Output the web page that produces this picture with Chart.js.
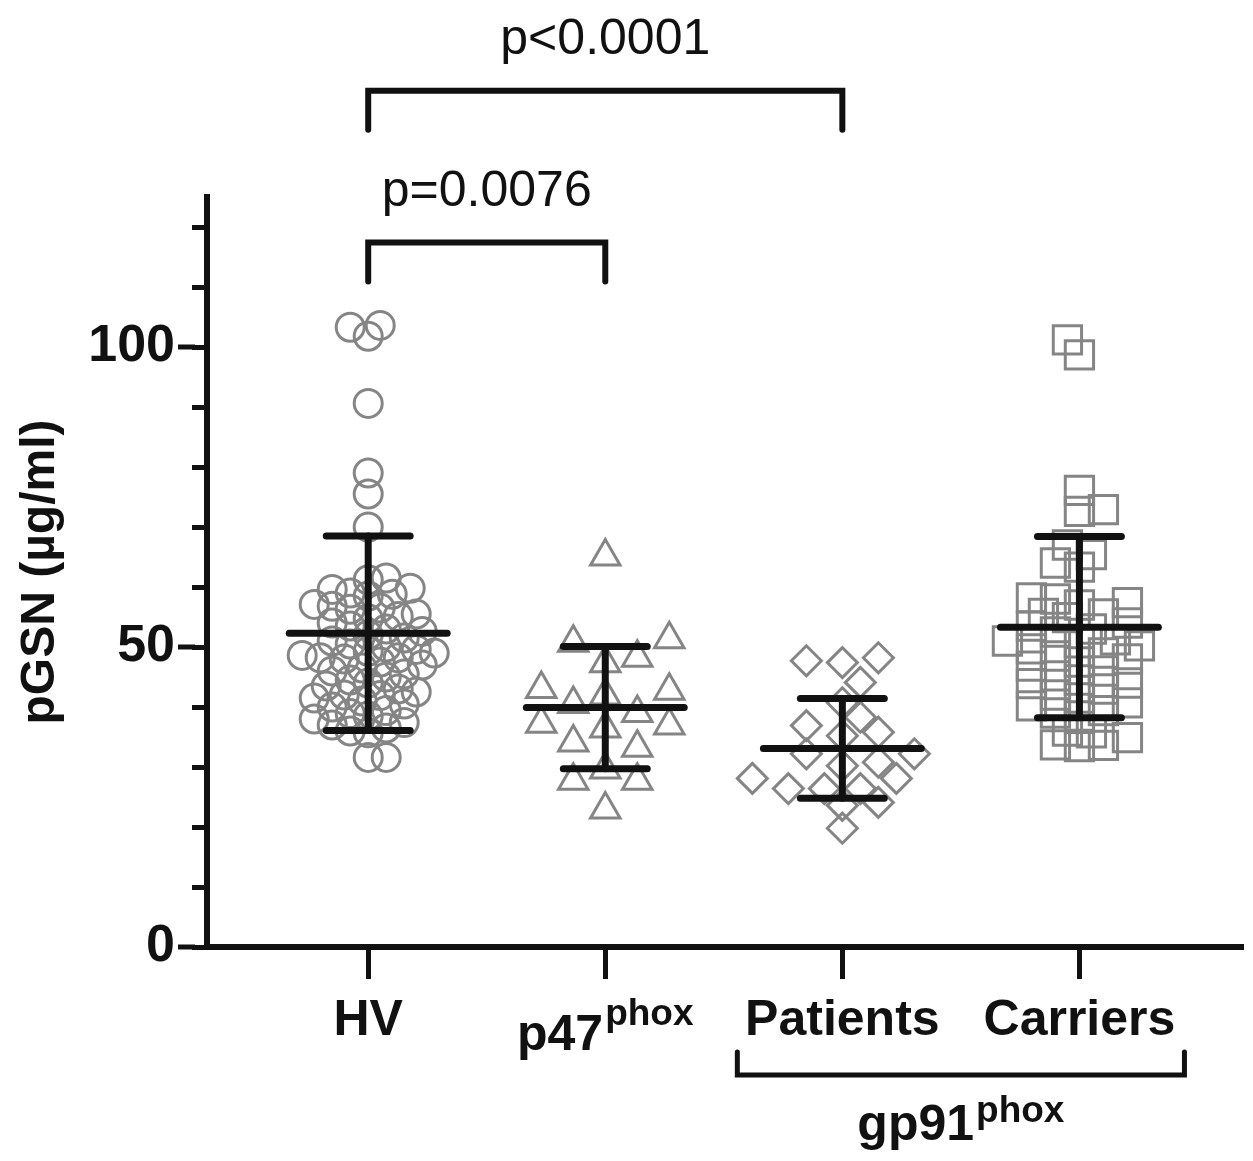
<!DOCTYPE html>
<html>
<head>
<meta charset="utf-8">
<script src="https://cdn.jsdelivr.net/npm/chart.js@4.4.0/dist/chart.umd.min.js"></script>
<style>
  html, body { margin: 0; padding: 0; background: #fff; }
</style>
</head>
<body>
<canvas id="gsnChart" width="1253" height="1161"></canvas>
<script>
// categories and labels
const groups = ['HV', 'p47', 'Patients', 'Carriers'];
const groupSup = ['', 'phox', '', ''];
const subGroupLabel = 'gp91';
const subGroupSup = 'phox';
const subGroupMembers = [2, 3];

// pGSN values (ug/ml)
const hvValues = [
  103.3, 103.6, 101.8, 90.6, 79.0, 75.5, 70.0,
  61.5, 61.2, 59.8, 59.6, 59.0, 58.8, 58.5, 57.1, 56.8, 56.5, 56.3, 55.5, 55.1, 54.7, 54.0, 53.5, 53.0, 52.6, 52.0,
  51.5, 51.0, 50.5, 50.0, 49.6, 49.3, 49.0, 48.6, 48.2, 48.2, 48.0, 47.5, 47.0, 46.5, 46.0, 45.5, 45.0, 44.5, 44.0, 43.5, 43.0,
  42.5, 42.0, 41.9, 41.5, 41.0, 40.5, 40.0, 39.4, 38.9, 38.5, 38.0, 37.4, 37.0, 36.5, 36.0, 35.7, 31.6, 31.6
];
const p47Values = [
  65.1, 51.3, 50.7, 48.2, 47.3, 43.0, 42.7, 41.9, 40.5, 39.0,
  37.2, 36.9, 36.4, 34.1, 33.2, 29.6, 27.7, 27.7, 22.9
];
const patientValues = [
  48.2, 47.7, 47.4, 44.1, 40.7, 38.3, 36.9, 35.8, 35.2, 32.2, 32.2,
  30.8, 30.2, 28.1, 28.1, 26.4, 26.4, 26.4, 24.1, 23.6, 19.8
];
const carrierValues = [
  101.2, 98.7, 76.1, 72.9, 72.6, 67.0, 65.4, 64.0, 63.3, 58.2, 58.0, 57.4, 57.0,
  55.6, 55.5, 54.9, 54.0, 53.5, 53.0, 52.5, 51.2, 51.0, 50.7, 50.2, 49.7, 49.0,
  48.5, 48.0, 47.5, 46.8, 46.0, 45.2, 44.5, 44.0, 43.9, 43.0, 42.0, 41.5, 40.7,
  40.2, 39.4, 39.0, 38.5, 36.0, 35.7, 34.9, 33.7, 33.6, 33.4
];

// mean and SD per group
const means = [52.3, 39.9, 33.1, 53.3];
const sds = [16.2, 10.2, 8.3, 15.1];

// y axis
const yTicks = [0, 10, 20, 30, 40, 50, 60, 70, 80, 90, 100, 110, 120];
const yLabelTicks = [0, 50, 100];

// comparisons: group pair, bracket level (ug/ml), label
const pPairs = [[0, 1], [0, 2]];
const pLevels = [117.4, 142.7];
const pTexts = ['p=0.0076', 'p<0.0001'];

const allValues = [hvValues, p47Values, patientValues, carrierValues];

const FONT = "'Liberation Sans', Arial, Helvetica, sans-serif";
const INK = '#111111';
const GREY = '#858585';

const markerStyles = [
  { pointStyle: 'circle', radius: 14 },
  { pointStyle: 'triangle', radius: 17 },
  { pointStyle: 'rectRot', radius: 15 },
  { pointStyle: 'rect', radius: 20 }
];
// beeswarm spacing in px
const swarmSpacing = [
  { gap: 16, step: 6 },
  { gap: 30, step: 32 },
  { gap: 22, step: 18 },
  { gap: 17, step: 12 }
];

// simple beeswarm: returns px offsets for each value
const layoutSwarm = (values, pxPerUnit, gap, step) => {
  const order = values.map((v, i) => i).sort((a, b) => values[a] - values[b]);
  const placed = [];
  const offsets = new Array(values.length).fill(0);
  let flip = 1;
  order.forEach(i => {
    const y = values[i] * pxPerUnit;
    for (let k = 0; k < 200; k++) {
      const cands = k === 0 ? [0] : [flip * k * step, -flip * k * step];
      const hit = cands.find(c => placed.every(p => Math.hypot(p.x - c, p.y - y) >= gap));
      if (hit !== undefined) {
        placed.push({ x: hit, y });
        offsets[i] = hit;
        if (hit !== 0) flip = -flip;
        break;
      }
    }
  });
  return offsets;
};

const drawLine = (ctx, pts, width) => {
  ctx.beginPath();
  ctx.moveTo(pts[0][0], pts[0][1]);
  for (let i = 1; i < pts.length; i++) ctx.lineTo(pts[i][0], pts[i][1]);
  ctx.lineWidth = width;
  ctx.stroke();
};

const drawSupLabel = (ctx, main, sup, cx, baseMain, baseSup, mainSize, supSize) => {
  const mainFont = `bold ${mainSize}px ${FONT}`;
  const supFont = `bold ${supSize}px ${FONT}`;
  ctx.font = mainFont;
  const wMain = ctx.measureText(main).width;
  ctx.font = supFont;
  const wSup = sup ? ctx.measureText(sup).width + 2 : 0;
  const x0 = cx - (wMain + wSup) / 2;
  ctx.textAlign = 'left';
  ctx.textBaseline = 'alphabetic';
  ctx.font = mainFont;
  ctx.fillText(main, x0, baseMain);
  if (sup) {
    ctx.font = supFont;
    ctx.fillText(sup, x0 + wMain + 2, baseSup);
  }
};

const decorPlugin = {
  id: 'decor',
  afterDatasetsDraw(chart) {
    const { ctx, scales: { x, y } } = chart;
    ctx.save();
    ctx.strokeStyle = INK;
    ctx.lineCap = 'round';
    means.forEach((m, i) => {
      const cx = x.getPixelForValue(i + 1);
      const meanHalf = x.getPixelForValue(i + 1.333) - cx;
      const capHalf = x.getPixelForValue(i + 1.177) - cx;
      const yM = y.getPixelForValue(m);
      const yHi = y.getPixelForValue(m + sds[i]);
      const yLo = y.getPixelForValue(m - sds[i]);
      drawLine(ctx, [[cx, yHi], [cx, yLo]], 7);
      drawLine(ctx, [[cx - capHalf, yHi], [cx + capHalf, yHi]], 7);
      drawLine(ctx, [[cx - capHalf, yLo], [cx + capHalf, yLo]], 7);
      drawLine(ctx, [[cx - meanHalf, yM], [cx + meanHalf, yM]], 7);
    });
    ctx.restore();
  },
  afterDraw(chart) {
    const { ctx, chartArea, scales: { x, y } } = chart;
    ctx.save();
    ctx.strokeStyle = INK;
    ctx.fillStyle = INK;

    // longer ticks at labelled values
    ctx.lineCap = 'butt';
    yLabelTicks.forEach(v => {
      const py = y.getPixelForValue(v);
      drawLine(ctx, [[chartArea.left - 29, py], [chartArea.left - 12, py]], 5);
    });

    // significance brackets
    ctx.lineCap = 'round';
    ctx.lineJoin = 'miter';
    pPairs.forEach((pair, i) => {
      const x1 = x.getPixelForValue(pair[0] + 1);
      const x2 = x.getPixelForValue(pair[1] + 1);
      const yb = y.getPixelForValue(pLevels[i]);
      drawLine(ctx, [[x1, yb + 39], [x1, yb], [x2, yb], [x2, yb + 39]], 6);
      ctx.font = `50px ${FONT}`;
      ctx.textAlign = 'center';
      ctx.textBaseline = 'alphabetic';
      ctx.fillText(pTexts[i], (x1 + x2) / 2, yb - 37);
    });

    // category labels
    groups.forEach((g, i) => {
      const cx = x.getPixelForValue(i + 1);
      if (groupSup[i]) {
        drawSupLabel(ctx, g, groupSup[i], cx, chartArea.bottom + 103, chartArea.bottom + 78, 50, 37);
      } else {
        drawSupLabel(ctx, g, '', cx, chartArea.bottom + 88, 0, 50, 37);
      }
    });

    // sub-group bracket
    const gx1 = x.getPixelForValue(subGroupMembers[0] + 1 - 0.443);
    const gx2 = x.getPixelForValue(subGroupMembers[1] + 1 + 0.443);
    const gy = chartArea.bottom + 128;
    drawLine(ctx, [[gx1, gy - 23], [gx1, gy], [gx2, gy], [gx2, gy - 23]], 5);
    const gcx = (x.getPixelForValue(subGroupMembers[0] + 1) + x.getPixelForValue(subGroupMembers[1] + 1)) / 2;
    drawSupLabel(ctx, subGroupLabel, subGroupSup, gcx, chartArea.bottom + 193, chartArea.bottom + 175, 50, 37);

    ctx.restore();
  }
};

const datasets = allValues.map((vals, i) => ({
  label: groups[i],
  data: vals.map(v => ({ x: i + 1, y: v })),
  pointStyle: markerStyles[i].pointStyle,
  pointRadius: markerStyles[i].radius,
  pointBorderWidth: 3,
  pointBorderColor: GREY,
  pointBackgroundColor: 'rgba(0,0,0,0)',
  showLine: false,
  clip: false
}));

const chart = new Chart(document.getElementById('gsnChart').getContext('2d'), {
  type: 'scatter',
  data: { datasets },
  options: {
    responsive: false,
    devicePixelRatio: 1,
    animation: false,
    events: [],
    layout: { autoPadding: false, padding: { top: 197, right: 10, bottom: 0, left: 0 } },
    plugins: { legend: { display: false }, tooltip: { enabled: false } },
    scales: {
      x: {
        type: 'linear',
        min: 0.32,
        max: 4.69,
        afterBuildTicks: s => { s.ticks = groups.map((g, i) => ({ value: i + 1 })); },
        afterFit: s => { s.height = 214; },
        ticks: { display: false, autoSkip: false },
        grid: { drawOnChartArea: false, tickLength: 32, tickWidth: 5, tickColor: INK },
        border: { width: 6, color: INK }
      },
      y: {
        type: 'linear',
        min: 0,
        max: 125,
        afterBuildTicks: s => { s.ticks = yTicks.map(v => ({ value: v })); },
        afterFit: s => { s.width = 207; },
        ticks: {
          autoSkip: false,
          callback: v => yLabelTicks.includes(v) ? String(v) : '',
          font: { family: FONT, size: 52, weight: 'bold' },
          color: INK,
          padding: 17
        },
        grid: { drawOnChartArea: false, tickLength: 15, tickWidth: 5, tickColor: INK },
        border: { width: 6, color: INK },
        title: {
          display: true,
          text: 'pGSN (µg/ml)',
          font: { family: FONT, size: 48, weight: 'bold' },
          color: INK,
          padding: { top: 12, bottom: 0 }
        }
      }
    }
  },
  plugins: [decorPlugin]
});

// spread the points sideways once the scales are known
const pxPerX = chart.scales.x.getPixelForValue(2) - chart.scales.x.getPixelForValue(1);
const pxPerY = chart.scales.y.getPixelForValue(0) - chart.scales.y.getPixelForValue(1);
allValues.forEach((vals, i) => {
  const offs = layoutSwarm(vals, pxPerY, swarmSpacing[i].gap, swarmSpacing[i].step);
  chart.data.datasets[i].data = vals.map((v, j) => ({ x: i + 1 + offs[j] / pxPerX, y: v }));
});
chart.update('none');
</script>
</body>
</html>
